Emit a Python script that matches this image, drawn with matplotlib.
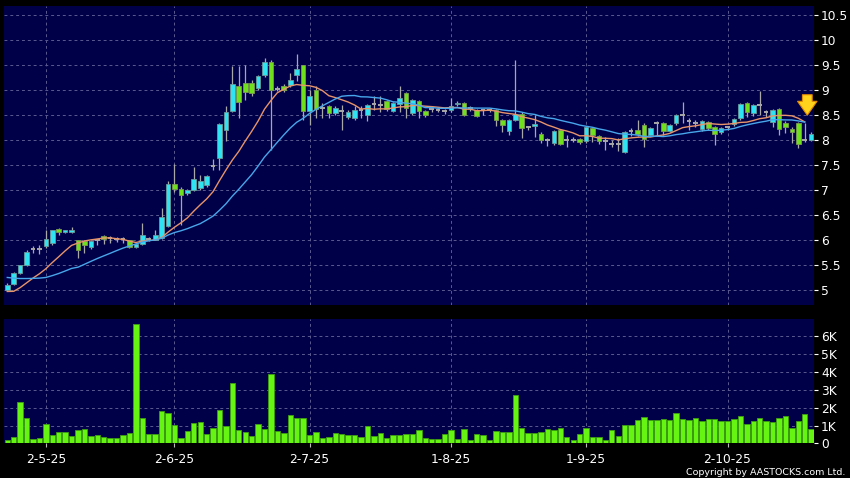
import matplotlib
matplotlib.use("Agg")
import matplotlib.pyplot as plt
import numpy as np
import pandas as pd

# daily OHLC, volume in thousands (K)
opens = [5.00, 5.11, 5.33, 5.49, 5.81, 5.81, 5.88, 5.93, 6.21, 6.15,
         6.16, 5.99, 5.97, 5.85, 5.99, 6.08, 6.03, 6.02, 6.01, 5.99,
         5.85, 5.92, 6.01, 6.00, 6.03, 6.27, 7.11, 7.01, 6.93, 6.99,
         7.03, 7.09, 7.47, 7.63, 8.20, 8.57, 9.07, 9.13, 9.13, 9.03,
         9.30, 9.55, 9.02, 9.08, 9.09, 9.29, 9.49, 8.58, 9.00, 8.63,
         8.67, 8.53, 8.58, 8.45, 8.43, 8.60, 8.50, 8.71, 8.70, 8.77,
         8.57, 8.71, 8.93, 8.53, 8.77, 8.57, 8.61, 8.59, 8.57, 8.59,
         8.71, 8.73, 8.63, 8.60, 8.59, 8.60, 8.60, 8.40, 8.18, 8.40,
         8.52, 8.25, 8.28, 8.12, 7.99, 7.93, 8.20, 8.00, 8.00, 8.01,
         7.97, 8.23, 8.08, 7.98, 7.92, 7.91, 7.75, 8.18, 8.20, 8.29,
         8.10, 8.33, 8.33, 8.17, 8.33, 8.49, 8.37, 8.33, 8.21, 8.35,
         8.25, 8.15, 8.25, 8.31, 8.43, 8.73, 8.53, 8.70, 8.55, 8.35,
         8.61, 8.33, 8.21, 8.33, 7.99, 8.00]
highs = [5.13, 5.35, 5.50, 5.79, 5.87, 5.90, 6.20, 6.20, 6.23, 6.20,
         6.25, 6.00, 6.00, 5.99, 6.02, 6.10, 6.08, 6.06, 6.05, 6.00,
         5.93, 6.33, 6.05, 6.20, 6.63, 7.18, 7.52, 7.05, 7.02, 7.45,
         7.30, 7.30, 7.62, 8.33, 8.67, 9.48, 9.47, 9.50, 9.20, 9.30,
         9.63, 9.60, 9.08, 9.12, 9.33, 9.72, 9.50, 9.00, 9.07, 8.73,
         8.70, 8.68, 8.70, 8.60, 8.68, 8.67, 8.72, 8.87, 8.87, 8.80,
         8.75, 9.07, 8.95, 8.81, 8.79, 8.60, 8.68, 8.64, 8.62, 8.83,
         8.77, 8.75, 8.67, 8.62, 8.62, 8.62, 8.62, 8.42, 8.41, 9.60,
         8.55, 8.28, 8.50, 8.15, 8.03, 8.20, 8.22, 8.10, 8.05, 8.03,
         8.27, 8.25, 8.10, 8.05, 8.00, 8.03, 8.17, 8.23, 8.40, 8.33,
         8.25, 8.37, 8.35, 8.31, 8.51, 8.75, 8.43, 8.40, 8.40, 8.38,
         8.28, 8.25, 8.28, 8.43, 8.73, 8.75, 8.72, 8.97, 8.60, 8.62,
         8.63, 8.38, 8.25, 8.35, 8.33, 8.15]
lows = [4.98, 5.10, 5.31, 5.47, 5.73, 5.71, 5.84, 5.90, 6.10, 6.13,
        6.14, 5.63, 5.73, 5.82, 5.90, 5.92, 5.94, 5.95, 5.94, 5.83,
        5.84, 5.90, 5.98, 5.99, 6.02, 6.25, 6.95, 6.30, 6.90, 6.97,
        7.00, 7.05, 7.40, 7.40, 7.97, 8.55, 8.43, 8.80, 8.88, 9.00,
        9.25, 7.80, 8.97, 8.95, 9.05, 9.17, 8.40, 8.30, 8.43, 8.43,
        8.43, 8.50, 8.20, 8.42, 8.40, 8.43, 8.37, 8.60, 8.55, 8.58,
        8.55, 8.55, 8.43, 8.50, 8.43, 8.46, 8.55, 8.55, 8.52, 8.56,
        8.68, 8.48, 8.58, 8.45, 8.50, 8.55, 8.27, 8.15, 8.10, 8.38,
        8.03, 8.20, 8.05, 7.93, 7.88, 7.90, 7.90, 7.85, 7.95, 7.92,
        7.93, 7.95, 7.92, 7.80, 7.85, 7.78, 7.73, 8.07, 8.08, 7.85,
        8.07, 8.07, 8.10, 8.15, 8.30, 8.33, 8.20, 8.25, 8.18, 8.20,
        7.90, 8.12, 8.20, 8.28, 8.40, 8.45, 8.48, 8.50, 8.45, 8.25,
        8.10, 8.13, 7.93, 7.83, 7.95, 7.98]
closes = [5.10, 5.33, 5.49, 5.75, 5.81, 5.81, 6.01, 6.19, 6.15, 6.19,
          6.19, 5.80, 5.90, 5.97, 5.99, 6.01, 6.03, 6.02, 6.01, 5.85,
          5.91, 6.09, 6.01, 6.09, 6.45, 7.11, 7.01, 6.90, 6.99, 7.21,
          7.17, 7.27, 7.47, 8.31, 8.55, 9.11, 8.75, 8.95, 8.93, 9.28,
          9.55, 9.00, 9.02, 9.00, 9.20, 9.41, 8.58, 8.87, 8.61, 8.63,
          8.53, 8.63, 8.58, 8.55, 8.60, 8.60, 8.70, 8.71, 8.70, 8.61,
          8.73, 8.83, 8.63, 8.79, 8.57, 8.49, 8.61, 8.59, 8.57, 8.68,
          8.73, 8.50, 8.63, 8.48, 8.59, 8.60, 8.39, 8.30, 8.39, 8.52,
          8.23, 8.25, 8.32, 8.00, 7.99, 8.17, 7.92, 8.00, 8.00, 7.95,
          8.25, 8.10, 7.98, 7.98, 7.92, 7.91, 8.15, 8.18, 8.12, 8.01,
          8.23, 8.33, 8.17, 8.29, 8.49, 8.49, 8.37, 8.33, 8.37, 8.23,
          8.12, 8.23, 8.25, 8.41, 8.71, 8.55, 8.69, 8.70, 8.55, 8.60,
          8.22, 8.25, 8.15, 7.92, 7.99, 8.11]
volume = [0.19, 0.34, 2.30, 1.40, 0.26, 0.30, 1.09, 0.45, 0.62, 0.62,
          0.41, 0.77, 0.79, 0.41, 0.50, 0.36, 0.28, 0.28, 0.50, 0.58,
          6.66, 1.43, 0.53, 0.53, 1.80, 1.69, 1.01, 0.32, 0.69, 1.14,
          1.20, 0.54, 0.86, 1.86, 0.99, 3.38, 0.75, 0.66, 0.43, 1.07,
          0.81, 3.88, 0.71, 0.60, 1.60, 1.40, 1.40, 0.47, 0.64, 0.28,
          0.36, 0.58, 0.53, 0.45, 0.45, 0.36, 0.98, 0.41, 0.56, 0.30,
          0.49, 0.49, 0.51, 0.53, 0.75, 0.32, 0.24, 0.24, 0.51, 0.75,
          0.24, 0.81, 0.21, 0.51, 0.45, 0.19, 0.68, 0.62, 0.64, 2.70,
          0.88, 0.58, 0.58, 0.66, 0.81, 0.75, 0.88, 0.36, 0.19, 0.53,
          0.86, 0.34, 0.34, 0.21, 0.77, 0.41, 1.01, 1.01, 1.29, 1.46,
          1.31, 1.31, 1.39, 1.31, 1.73, 1.37, 1.31, 1.43, 1.28, 1.35,
          1.35, 1.28, 1.26, 1.39, 1.54, 1.11, 1.26, 1.43, 1.26, 1.20,
          1.43, 1.54, 0.84, 1.26, 1.65, 0.81]
# closes before the first shown day (only feed the moving averages)
prior_closes = [5.60, 5.65, 5.75, 5.75, 5.70, 5.75, 5.45, 5.30, 5.20, 5.15,
                5.30, 4.75, 4.80, 4.85, 4.95, 5.00, 4.95, 5.00, 5.00]

date_pos = [6, 26, 47, 69, 90, 112]
date_labels = ["2-5-25", "2-6-25", "2-7-25", "1-8-25", "1-9-25", "2-10-25"]
price_ticks = [5, 5.5, 6, 6.5, 7, 7.5, 8, 8.5, 9, 9.5, 10, 10.5]
price_tick_labels = ["5", "5.5", "6", "6.5", "7", "7.5", "8", "8.5", "9", "9.5", "10", "10.5"]
vol_ticks = [0, 1, 2, 3, 4, 5, 6]
vol_tick_labels = ["0", "1K", "2K", "3K", "4K", "5K", "6K"]

BG = "#000048"
GRID = "#5a5a90"
UP = "#2fe4f2"
DOWN = "#6ee01c"
FLAT = "#a8a8a8"

o = np.array(opens)
h = np.array(highs)
l = np.array(lows)
c = np.array(closes)
x = np.arange(len(c))

all_closes = pd.Series(prior_closes + closes)
ma10 = all_closes.rolling(10).mean().values[len(prior_closes):]
ma20 = all_closes.rolling(20).mean().values[len(prior_closes):]

fig = plt.figure(figsize=(8.5, 4.78), dpi=100, facecolor="black")
ax = fig.add_axes([0.0047, 0.362, 0.953, 0.6255])
axv = fig.add_axes([0.0047, 0.0722, 0.953, 0.2604])

for a in (ax, axv):
    a.set_facecolor(BG)
    for s in a.spines.values():
        s.set_visible(False)
    a.set_xlim(-0.51, 125.45)
    a.yaxis.tick_right()
    a.tick_params(axis="y", colors="white", labelsize=8.8, length=3, pad=2)
    a.grid(True, color=GRID, linestyle=(0, (3, 3)), linewidth=0.7)
    a.set_axisbelow(True)
    a.set_xticks(date_pos)

# candlesticks
up = c > o
down = c < o
flat = c == o
ax.vlines(x, l, h, color=FLAT, linewidth=0.9, zorder=2)
ax.bar(x[up], (c - o)[up], bottom=o[up], width=0.72, color=UP,
       edgecolor="#6a9a9a", linewidth=0.6, zorder=3)
ax.bar(x[down], (o - c)[down], bottom=c[down], width=0.72, color=DOWN,
       edgecolor="#7a9a50", linewidth=0.6, zorder=3)
ax.hlines(c[flat], x[flat] - 0.36, x[flat] + 0.36, color=FLAT, linewidth=1.4, zorder=3)

ax.plot(x[:-1], ma10[:-1], color="#e8946a", linewidth=1.0, zorder=4)
ax.plot(x[:-1], ma20[:-1], color="#48a6ea", linewidth=1.0, zorder=4)

ax.annotate("", xy=(124.4, 8.44), xytext=(124.4, 8.96),
            arrowprops=dict(arrowstyle="simple,head_width=1.4,head_length=1.0,tail_width=0.7",
                            fc="#ffd21c", ec="#e58a00", lw=0.8), zorder=5)

ax.set_ylim(4.7, 10.68)
ax.set_yticks(price_ticks)
ax.set_yticklabels(price_tick_labels)
ax.tick_params(axis="x", length=0, labelbottom=False)

# volume
axv.bar(x, volume, width=0.84, color="#66f512", edgecolor="#3da010", linewidth=0.6, zorder=3)
axv.set_ylim(0, 6.95)
axv.set_yticks(vol_ticks)
axv.set_yticklabels(vol_tick_labels)
axv.set_xticklabels(date_labels)
axv.tick_params(axis="x", colors="#bbbbbb", labelcolor="white", labelsize=8.8, length=3, pad=4)

fig.text(0.995, 0.003, "Copyright by AASTOCKS.com Ltd.", color="white", fontsize=6.8,
         ha="right", va="bottom")

fig.savefig("out.png", dpi=100, facecolor="black")
